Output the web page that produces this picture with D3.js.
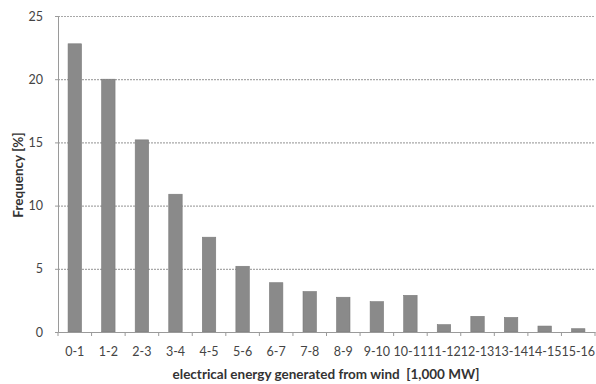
<!DOCTYPE html>
<html><head><meta charset="utf-8">
<script src="https://cdn.jsdelivr.net/npm/d3@7"></script>
<style>body{margin:0;background:#fff}svg{display:block}</style>
</head><body>
<svg id="c" width="596" height="384"></svg>
<script>
const categories = ["0-1","1-2","2-3","3-4","4-5","5-6","6-7","7-8","8-9","9-10","10-11","11-12","12-13","13-14","14-15","15-16"];
const frequency = [22.8,20.0,15.2,10.9,7.5,5.2,3.9,3.2,2.75,2.4,2.9,0.58,1.24,1.15,0.47,0.26];
const yTicks = [0,5,10,15,20,25];
const xTitle = "electrical energy generated from wind\u00a0\u00a0[1,000 MW]";
const yTitle = "Frequency [%]";

const svg = d3.select("#c");
const m = {l:58, r:595, t:16, b:332};
const x = d3.scaleBand().domain(categories).range([m.l, m.r]).paddingInner(0.6).paddingOuter(0.3);
const y = d3.scaleLinear().domain([0,25]).range([m.b, m.t]);
const font = "Lato, 'Open Sans', sans-serif";

// gridlines
svg.append("g").selectAll("line").data(yTicks.filter(d=>d>0)).join("line")
  .attr("x1", m.l).attr("x2", m.r).attr("y1", d=>y(d)+0.5).attr("y2", d=>y(d)+0.5)
  .attr("stroke", "#a8a8a8").attr("stroke-width", 1.2).attr("stroke-dasharray","2,1");

// bars
svg.append("g").selectAll("rect").data(frequency).join("rect")
  .attr("x", (d,i)=>x(categories[i])).attr("width", x.bandwidth())
  .attr("y", d=>y(d)).attr("height", d=>y(0)-y(d))
  .attr("fill", "#8a8a8a").attr("stroke","#7a7a7a").attr("stroke-width",0.6);

// y axis
const yAxis = d3.axisLeft(y).tickValues(yTicks).tickSize(3).tickPadding(12);
const gy = svg.append("g").attr("transform", `translate(${m.l},0)`).call(yAxis);
gy.select(".domain").attr("stroke","#9a9a9a");
gy.selectAll(".tick line").attr("stroke","#9a9a9a");
gy.selectAll("text").attr("font-family", font).attr("font-size", 12.5).attr("fill","#444");

// x axis
const xAxis = d3.axisBottom(x).tickSize(0).tickPadding(15);
const gx = svg.append("g").attr("transform", `translate(0,${m.b})`).call(xAxis);
gx.select(".domain").attr("stroke","#9a9a9a");
gx.selectAll("text").attr("font-family", font).attr("font-size", 12.5).attr("fill","#444");
// boundary ticks
const step = x.step();
const bounds = d3.range(categories.length+1).map(i => x(categories[0]) - (step - x.bandwidth())/2 + i*step);
svg.append("g").selectAll("line").data(bounds).join("line")
  .attr("x1", d=>d).attr("x2", d=>d).attr("y1", m.b).attr("y2", m.b+4)
  .attr("stroke","#9a9a9a");

// titles
svg.append("text").attr("x", 326).attr("y", 379).attr("text-anchor","middle")
  .attr("font-family", font).attr("font-weight","bold").attr("font-size", 13.5).attr("fill","#333")
  .text(xTitle);
svg.append("text").attr("transform", "translate(23,175) rotate(-90)").attr("text-anchor","middle")
  .attr("font-family", font).attr("font-weight","bold").attr("font-size", 13.5).attr("fill","#333")
  .text(yTitle);
</script>
</body></html>
